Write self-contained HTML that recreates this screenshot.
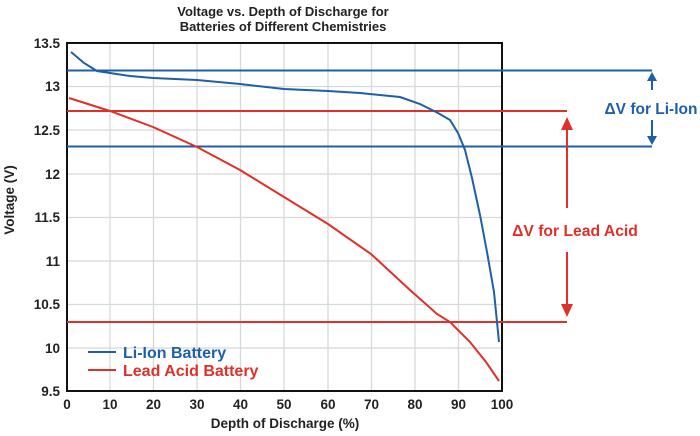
<!DOCTYPE html>
<html><head><meta charset="utf-8"><style>
html,body{margin:0;padding:0;background:#fff;}
svg text{font-family:"Liberation Sans",sans-serif;font-weight:bold;}
</style></head><body>
<svg width="700" height="431" viewBox="0 0 700 431" xmlns="http://www.w3.org/2000/svg">
<text x="283" y="16" font-size="13" text-anchor="middle" fill="#222">Voltage vs. Depth of Discharge for</text>
<text x="283" y="31" font-size="13" text-anchor="middle" fill="#222">Batteries of Different Chemistries</text>
<g stroke="#d8d8d8" stroke-width="1.3">
<line x1="110" y1="43" x2="110" y2="391"/><line x1="153.5" y1="43" x2="153.5" y2="391"/>
<line x1="197" y1="43" x2="197" y2="391"/><line x1="240.5" y1="43" x2="240.5" y2="391"/>
<line x1="284" y1="43" x2="284" y2="391"/><line x1="328" y1="43" x2="328" y2="391"/>
<line x1="371.5" y1="43" x2="371.5" y2="391"/><line x1="415" y1="43" x2="415" y2="391"/>
<line x1="458.5" y1="43" x2="458.5" y2="391"/>
<line x1="67" y1="86.5" x2="502" y2="86.5"/><line x1="67" y1="130" x2="502" y2="130"/>
<line x1="67" y1="174" x2="502" y2="174"/><line x1="67" y1="217.5" x2="502" y2="217.5"/>
<line x1="67" y1="261" x2="502" y2="261"/><line x1="67" y1="304.5" x2="502" y2="304.5"/>
<line x1="67" y1="348" x2="502" y2="348"/>
</g>
<rect x="67" y="43" width="435" height="348" fill="none" stroke="#111" stroke-width="2"/>
<g font-size="13.5" fill="#222" text-anchor="end">
<text x="60" y="48">13.5</text><text x="60" y="91">13</text><text x="60" y="135">12.5</text>
<text x="60" y="179">12</text><text x="60" y="222">11.5</text><text x="60" y="266">11</text>
<text x="60" y="309">10.5</text><text x="60" y="353">10</text><text x="60" y="396">9.5</text>
</g>
<g font-size="13.5" fill="#222" text-anchor="middle">
<text x="67" y="409">0</text><text x="110" y="409">10</text><text x="153.5" y="409">20</text>
<text x="197" y="409">30</text><text x="240.5" y="409">40</text><text x="284" y="409">50</text>
<text x="328" y="409">60</text><text x="371.5" y="409">70</text><text x="415" y="409">80</text>
<text x="458.5" y="409">90</text><text x="502" y="409">100</text>
<text x="285" y="428">Depth of Discharge (%)</text>
</g>
<text transform="translate(14,200) rotate(-90)" font-size="13.5" fill="#222" text-anchor="middle">Voltage (V)</text>
<g stroke-width="2" fill="none">
<line x1="67" y1="70.5" x2="652" y2="70.5" stroke="#1f5fa8"/>
<line x1="67" y1="146.5" x2="652" y2="146.5" stroke="#1f5fa8"/>
<line x1="67" y1="111" x2="567" y2="111" stroke="#e0302a"/>
<line x1="67" y1="322" x2="567" y2="322" stroke="#e0302a"/>
<polyline stroke="#1f5fa8" points="71,52 84,63 97,71 110,73 130,76 153,78 197,80 240,84 284,89 328,91 360,93 400,97 420,104 438,113 450,120 458,133 465,150 472,178 480,215 487,252 494,292 499,342"/>
<polyline stroke="#e0302a" points="69,98 110,111 153,127 197,147 240,170 284,197 328,224 371,254 410,290 437,314 450,322 470,342 486,362 499,381"/>
<line x1="652" y1="78" x2="652" y2="90" stroke="#1f5fa8"/>
<line x1="652" y1="120" x2="652" y2="139" stroke="#1f5fa8"/>
<line x1="567" y1="125" x2="567" y2="208" stroke="#e0302a"/>
<line x1="567" y1="252" x2="567" y2="310" stroke="#e0302a"/>
<line x1="88" y1="352" x2="116" y2="352" stroke="#1f5fa8"/>
<line x1="88" y1="370" x2="116" y2="370" stroke="#e0302a"/>
</g>
<polygon points="652,72 647,81 657,81" fill="#1f5fa8"/>
<polygon points="652,145 647,136 657,136" fill="#1f5fa8"/>
<polygon points="567,117 561,130 573,130" fill="#e0302a"/>
<polygon points="567,317 561,304 573,304" fill="#e0302a"/>
<text x="651" y="114" font-size="15.5" fill="#1f5fa8" text-anchor="middle">ΔV for Li-Ion</text>
<text x="575" y="236" font-size="15.7" fill="#e0302a" text-anchor="middle">ΔV for Lead Acid</text>
<text x="123" y="358" font-size="16" fill="#1f5fa8">Li-Ion Battery</text>
<text x="123" y="376" font-size="16" fill="#e0302a">Lead Acid Battery</text>
</svg>
</body></html>
